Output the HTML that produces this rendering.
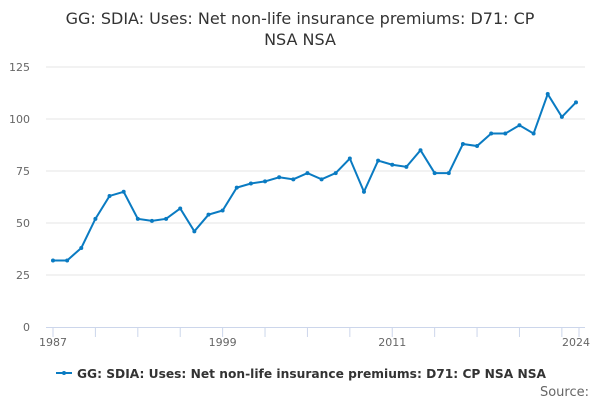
<!DOCTYPE html>
<html><head><meta charset="utf-8"><style>
body{margin:0;width:600px;height:400px;background:#fff;font-family:"DejaVu Sans","Liberation Sans",sans-serif;overflow:hidden}
</style></head><body>
<svg width="600" height="400">
<text x="300" y="24" text-anchor="middle" font-size="16" fill="#333">GG: SDIA: Uses: Net non-life insurance premiums: D71: CP</text>
<text x="300" y="45" text-anchor="middle" font-size="16" fill="#333">NSA NSA</text>
<g id="grid"></g><g id="axes"></g><g id="series"></g>
<g>
<line x1="56" y1="373" x2="72" y2="373" stroke="#0a7bc2" stroke-width="2"/>
<circle cx="64" cy="373" r="2" fill="#0a7bc2"/>
<text x="77" y="378" font-size="12.3" font-weight="bold" fill="#333" textLength="469" lengthAdjust="spacingAndGlyphs">GG: SDIA: Uses: Net non-life insurance premiums: D71: CP NSA NSA</text>
</g>
<text x="589" y="396" text-anchor="end" font-size="13" fill="#666">Source:</text>
</svg>
<script>
const years=[1987,1988,1989,1990,1991,1992,1993,1994,1995,1996,1997,1998,1999,2000,2001,2002,2003,2004,2005,2006,2007,2008,2009,2010,2011,2012,2013,2014,2015,2016,2017,2018,2019,2020,2021,2022,2023,2024];
const values=[32,32,38,52,63,65,52,51,52,57,46,54,56,67,69,70,72,71,74,71,74,81,65,80,78,77,85,74,74,88,87,93,93,97,93,112,101,108];
const yTicks=[0,25,50,75,100,125];
const xLabels=[1987,1999,2011,2024];
const NS="http://www.w3.org/2000/svg";
const x=v=>53+(v-1987)*(576-53)/37;
const y=v=>327-v*2.08;
function mk(t,a,p){const e=document.createElementNS(NS,t);for(const k in a)e.setAttribute(k,a[k]);p.appendChild(e);return e;}
const grid=document.getElementById('grid'),axes=document.getElementById('axes'),ser=document.getElementById('series');
yTicks.forEach(t=>{
 if(t>0){const l=mk('line',{x1:46,x2:585,y1:y(t),y2:y(t),stroke:'#e6e6e6'},grid);
 
 }
 const tx=mk('text',{x:30,y:y(t)+4,'text-anchor':'end','font-size':11,fill:'#666'},axes);tx.textContent=t;
 
 
});
const ax=mk('line',{x1:46,x2:585,y1:327.5,y2:327.5,stroke:'#ccd6eb'},axes);


for(let yr=1987;yr<=2023;yr+=3){mk('line',{x1:x(yr),x2:x(yr),y1:327,y2:337,stroke:'#ccd6eb'},axes);}
mk('line',{x1:579,x2:579,y1:327,y2:337,stroke:'#ccd6eb'},axes);
xLabels.forEach(v=>{const tx=mk('text',{x:x(v),y:346,'text-anchor':'middle','font-size':11,fill:'#666'},axes);tx.textContent=v;
 
 });
const p=mk('polyline',{points:years.map((yr,i)=>x(yr)+','+y(values[i])).join(' '),fill:'none',stroke:'#0a7bc2','stroke-width':2},ser);


years.forEach((yr,i)=>{const c=mk('circle',{cx:x(yr),cy:y(values[i]),r:2,fill:'#0a7bc2'},ser);
 
 });
</script>
</body></html>
